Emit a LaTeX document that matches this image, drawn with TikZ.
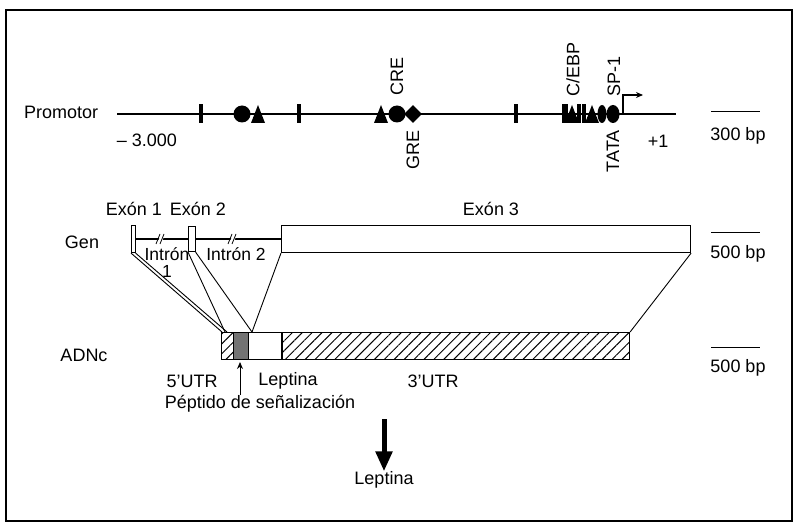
\documentclass[tikz,border=0pt]{standalone}
\usepackage{fontspec}
\setmainfont{Liberation Sans}
\usetikzlibrary{shapes.geometric,patterns.meta,arrows.meta}
\begin{document}
\begin{tikzpicture}[x=1pt,y=-1pt,
  lbl/.style={font=\fontsize{18}{20}\selectfont, inner sep=0pt},
  smalllbl/.style={font=\fontsize{17.5}{19}\selectfont, inner sep=0pt},
  dna/.style={line width=2.6pt},
  tickbar/.style={rectangle, fill=black, draw=none, minimum width=4.5pt, minimum height=19pt, inner sep=0pt},
  blob/.style={circle, fill=black, draw=none, minimum size=17pt, inner sep=0pt},
  egg/.style={ellipse, fill=black, draw=none, minimum width=12pt, minimum height=18pt, inner sep=0pt},
  dia/.style={diamond, fill=black, draw=none, minimum width=18pt, minimum height=18pt, inner sep=0pt},
  tri/.pic={\fill (-7,9) -- (7,9) -- (0,-9) -- cycle;},
  exonbox/.style={rectangle, draw, fill=white, line width=1.1pt, inner sep=0pt, anchor=north west},
  hatch/.style={pattern={Lines[angle=45,distance=7pt,line width=1pt]}},
  conn/.style={line width=0.9pt},
  scalebar/.style={line width=1pt}
]
\useasboundingbox (0,0) rectangle (802,526);
\draw[line width=1.2pt] (6,10) rectangle (792,521);

% ---------------- Promotor ----------------
\node[lbl, anchor=west] (prom) at (24,112) {Promotor};
\coordinate (pL) at (117,114);
\coordinate (pR) at (676,114);
\draw[dna] (pL) -- (pR);
\node[tickbar] (t1) at (201,114) {};
\node[tickbar] (t2) at (299,114) {};
\node[tickbar] (t3) at (516,114) {};
\node[blob] (b1) at (242,114) {};
\pic at (258,114) {tri};
\pic at (381,114) {tri};
\node[blob] (b2) at (397,114) {};
\node[dia] (d1) at (413,114) {};
% cluster
\node[tickbar, minimum width=6pt] (t4) at (565,114) {};
\pic at (572,114) {tri};
\node[tickbar, minimum width=3.5pt] (t5) at (579,114) {};
\node[tickbar, minimum width=3.5pt] (t6) at (584,114) {};
\pic at (592,114) {tri};
\node[egg, minimum width=9pt] (e1) at (602,114) {};
\node[egg, minimum width=13pt] (e2) at (613,114) {};
\coordinate (tss) at (623,114);
\coordinate (tssEnd) at (643,95);
\draw[line width=1.2pt, -{Stealth[length=7pt,width=6pt]}] (tss) |- (tssEnd);

\node[lbl, rotate=90, anchor=west] (cre) at (397,96) {CRE};
\node[lbl, rotate=90, anchor=east] (gre) at (413,130) {GRE};
\node[lbl, rotate=90, anchor=west] (cebp) at (573,97) {C/EBP};
\node[lbl, rotate=90, anchor=west] (sp1) at (614,97) {SP-1};
\node[lbl, rotate=90, anchor=east] (tata) at (613,130) {TATA};
\node[lbl] (m3000) at (147,140) {\textendash\ 3.000};
\node[lbl] (p1) at (658,141) {+1};

\coordinate (s1a) at (711,112);
\coordinate (s1b) at (760,112);
\draw[scalebar] (s1a) -- (s1b);
\node[lbl] (s1t) at (738,136) {300 bp};

% ---------------- Gen ----------------
\node[lbl] (gen) at (82,242) {Gen};
\node[lbl] (ex1t) at (134,209) {Exón 1};
\node[lbl] (ex2t) at (198,209) {Exón 2};
\node[lbl] (ex3t) at (491,209) {Exón 3};

\draw[dna, line width=2.2pt] (133,239) -- (281,239);
% break marks
\foreach \bx in {160,232}{
  \fill[white] (\bx-3,244) -- (\bx+1,234) -- (\bx+5,234) -- (\bx+1,244) -- cycle;
  \draw[line width=0.8pt] (\bx-4,244) -- (\bx,234);
  \draw[line width=0.8pt] (\bx,244) -- (\bx+4,234);
}
\node[exonbox, minimum width=3.5pt, minimum height=27pt] (ex1) at (131,225) {};
\node[exonbox, minimum width=6.5pt, minimum height=25pt] (ex2) at (188,226) {};
\node[exonbox, minimum width=409pt, minimum height=27pt] (ex3) at (281,225) {};

\node[smalllbl] (in1) at (167,254) {Intrón};
\node[smalllbl] (in1b) at (167,271) {1};
\node[smalllbl] (in2) at (236,254) {Intrón 2};

\coordinate (s2a) at (711,233);
\coordinate (s2b) at (760,233);
\draw[scalebar] (s2a) -- (s2b);
\node[lbl] (s2t) at (738,254) {500 bp};

% ---------------- ADNc ----------------
\node[lbl] (adnc) at (84,355) {ADNc};
\node[exonbox, hatch, minimum width=12pt, minimum height=27pt] (utr5) at (221,332) {};
\node[exonbox, fill=black!55, minimum width=15pt, minimum height=27pt, line width=1.4pt] (sig) at (233,332) {};
\node[exonbox, minimum width=34pt, minimum height=27pt] (lep) at (248,332) {};
\node[exonbox, hatch, minimum width=348pt, minimum height=27pt] (utr3) at (281,332) {};

\coordinate (c1) at (222,332);
\coordinate (c2) at (227,332);
\coordinate (c3) at (225,332);
\coordinate (c4) at (252,332);
\draw[conn] (ex1.south west) -- (c1);
\draw[conn] (ex1.south east) -- (c2);
\draw[conn] (ex2.south west) -- (c3);
\draw[conn] (ex2.south east) -- (c4);
\draw[conn] (ex3.south west) -- (c4);
\draw[conn] (ex3.south east) -- (utr3.north east);

\node[lbl] (u5t) at (192,381) {5'UTR};
\node[lbl] (lept) at (288,381) {Leptina};
\node[lbl] (u3t) at (433,381) {3'UTR};
\node[lbl] (pep) at (260,404) {Péptido de señalización};
\coordinate (pepArr) at (240,395);
\draw[line width=1pt, -{Stealth[length=7pt,width=6pt]}] (pepArr) -- (240,362);

\coordinate (s3a) at (711,347);
\coordinate (s3b) at (760,347);
\draw[scalebar] (s3a) -- (s3b);
\node[lbl] (s3t) at (738,368) {500 bp};

% ---------------- Leptina ----------------
\coordinate (bigA) at (384,419);
\node[lbl] (leptina) at (384,480) {Leptina};
\draw[line width=5pt, -{Triangle[length=20pt,width=16pt]}] (bigA) -- (leptina.north);
\end{tikzpicture}
\end{document}
